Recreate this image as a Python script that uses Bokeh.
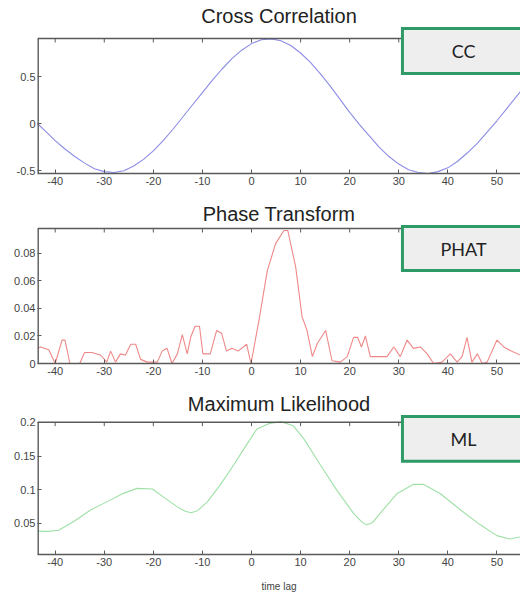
from bokeh.plotting import figure
from bokeh.layouts import column
from bokeh.models import Range1d, FixedTicker, Label
from bokeh.embed import file_html
from bokeh.resources import INLINE

# ---------------- data ----------------
lag_ticks = [-40, -30, -20, -10, 0, 10, 20, 30, 40, 50]
lag_tick_labels = ["-40", "-30", "-20", "-10", "0", "10", "20", "30", "40", "50"]

cc_lag = [-44, -42, -40, -38, -36, -34, -32, -30, -28, -26, -24, -22, -20, -18, -16,
          -14, -12, -10, -8, -6, -4, -2, 0, 2, 4, 6, 8, 10, 12, 14, 16, 18, 20, 22,
          24, 26, 28, 30, 32, 34, 36, 38, 40, 42, 44, 46, 48, 50, 52, 54, 56]
cc_val = [0.02, -0.08, -0.18, -0.27, -0.35, -0.42, -0.48, -0.51, -0.52, -0.50, -0.45,
          -0.38, -0.29, -0.18, -0.06, 0.07, 0.20, 0.33, 0.46, 0.58, 0.69, 0.78, 0.85,
          0.89, 0.90, 0.88, 0.83, 0.75, 0.65, 0.53, 0.40, 0.26, 0.12, -0.01, -0.13,
          -0.25, -0.35, -0.43, -0.49, -0.52, -0.53, -0.51, -0.47, -0.40, -0.31, -0.21,
          -0.09, 0.03, 0.16, 0.29, 0.42]
cc_yticks = [-0.5, 0, 0.5]
cc_ytick_labels = ["-0.5", "0", "0.5"]

phat_lag = [-43.6, -43.0, -41.3, -40.0, -38.6, -38.0, -37.0, -35.0, -34.0, -32.5, -30.7,
            -29.5, -28.7, -27.7, -26.7, -25.7, -24.6, -23.6, -22.6, -21.2, -19.2, -18.2,
            -17.2, -16.2, -15.1, -14.1, -13.1, -12.4, -11.5, -10.6, -9.9, -8.4, -7.1,
            -6.1, -5.1, -4.0, -2.7, -1.0, -0.1, 1.5, 3.2, 4.9, 6.6, 7.4, 9.0, 10.3, 11.3,
            12.4, 13.4, 15.1, 16.4, 18.1, 19.5, 20.8, 21.6, 22.4, 23.2, 24.2, 27.6, 29.0,
            30.3, 31.7, 33.0, 34.4, 35.8, 37.1, 38.8, 40.5, 41.9, 42.9, 43.9, 44.9, 46.0,
            47.0, 48.0, 50.0, 51.4, 52.7, 54.8]
phat_val = [0.011, 0.012, 0.010, 0.000, 0.017, 0.017, 0.000, 0.000, 0.008, 0.008, 0.006,
            0.001, 0.009, 0.001, 0.007, 0.006, 0.014, 0.014, 0.003, 0.001, 0.001, 0.009,
            0.011, 0.000, 0.007, 0.021, 0.007, 0.019, 0.027, 0.027, 0.007, 0.007, 0.024,
            0.022, 0.009, 0.011, 0.009, 0.014, 0.000, 0.031, 0.067, 0.087, 0.0965, 0.0965,
            0.070, 0.034, 0.024, 0.005, 0.0145, 0.024, 0.002, 0.001, 0.005, 0.019, 0.019,
            0.012, 0.020, 0.005, 0.005, 0.012, 0.005, 0.017, 0.011, 0.012, 0.007, 0.000,
            0.001, 0.007, 0.001, 0.005, 0.019, 0.001, 0.007, 0.000, 0.001, 0.017, 0.012,
            0.0095, 0.006]
phat_yticks = [0, 0.02, 0.04, 0.06, 0.08]
phat_ytick_labels = ["0", "0.02", "0.04", "0.06", "0.08"]

ml_lag = [-43.6, -41.5, -39.3, -36.2, -32.8, -29.5, -26.0, -23.3, -20.2, -17.9, -15.1,
          -13.5, -12.3, -11.0, -9.0, -6.3, -3.6, -0.9, 1.1, 3.5, 6.0, 8.5, 10.7, 14.0,
          17.4, 20.8, 22.5, 23.5, 24.6, 26.2, 29.6, 33.0, 35.0, 38.5, 42.6, 46.6, 50.0,
          52.6, 54.8]
ml_val = [0.0386, 0.0383, 0.040, 0.053, 0.070, 0.082, 0.095, 0.102, 0.101, 0.089, 0.0746,
          0.068, 0.066, 0.069, 0.082, 0.108, 0.137, 0.168, 0.190, 0.198, 0.201, 0.195,
          0.175, 0.137, 0.099, 0.065, 0.052, 0.048, 0.051, 0.065, 0.094, 0.108, 0.108,
          0.094, 0.070, 0.048, 0.032, 0.027, 0.030]
ml_yticks = [0.05, 0.1, 0.15, 0.2]
ml_ytick_labels = ["0.05", "0.1", "0.15", "0.2"]

TICK_FONT = "Liberation Sans"
AX_COLOR = "#5a5a5a"
X_LO, X_HI = -43.6, 54.8
BOX_LEFT = 30.75


def make_panel(title, lag, val, color, y_lo, y_top, frame_px, extra_px, yticks, ylabels,
               box_text, box_up_px, box_down_px, height, top, bottom, xlabel=None):
    # frame_px: pixel height of the boxed axes area; extra_px: room above it
    per_px = (y_top - y_lo) / frame_px
    y_end = y_top + extra_px * per_px
    p = figure(width=520, height=height, x_range=Range1d(X_LO, X_HI),
               y_range=Range1d(y_lo, y_end), output_backend="svg",
               toolbar_location=None, min_border_left=37, min_border_right=0,
               min_border_top=top, min_border_bottom=bottom, title=title)
    p.title.text_font = "Liberation Sans"
    p.title.text_font_size = "20px"
    p.title.text_font_style = "normal"
    p.title.text_color = "#222222"
    p.title.align = "center"
    p.title.standoff = 0
    p.outline_line_color = None
    p.xgrid.visible = False
    p.ygrid.visible = False
    p.background_fill_color = "white"

    p.line(lag, val, line_color=color, line_width=1.1)

    # box border: left side, top side and inward top ticks
    tick_len = 4 * per_px
    p.segment(x0=[X_LO], y0=[y_lo], x1=[X_LO], y1=[y_top], line_color=AX_COLOR,
              line_width=2.8)
    p.segment(x0=[X_LO], y0=[y_top], x1=[X_HI], y1=[y_top], line_color=AX_COLOR,
              line_width=1.4)
    p.segment(x0=lag_ticks, y0=[y_top] * len(lag_ticks), x1=lag_ticks,
              y1=[y_top - tick_len] * len(lag_ticks), line_color=AX_COLOR, line_width=1)

    p.xaxis.ticker = FixedTicker(ticks=lag_ticks)
    p.xaxis.major_label_overrides = dict(zip(lag_ticks, lag_tick_labels))
    p.yaxis.ticker = FixedTicker(ticks=yticks)
    p.yaxis.major_label_overrides = dict(zip(yticks, ylabels))
    for ax in (p.xaxis[0], p.yaxis[0]):
        ax.axis_line_color = AX_COLOR
        ax.axis_line_width = 1.4
        ax.major_tick_in = 4
        ax.major_tick_out = 0
        ax.major_tick_line_color = AX_COLOR
        ax.minor_tick_line_color = None
        ax.major_label_text_font = TICK_FONT
        ax.major_label_text_font_size = "11px"
        ax.major_label_text_color = "#444444"
        ax.major_label_standoff = 3
    p.yaxis[0].major_label_standoff = 2
    p.yaxis[0].axis_line_color = None

    if xlabel:
        bx = p.below[0]
        bx.axis_label = xlabel
        bx.axis_label_text_font = TICK_FONT
        bx.axis_label_text_font_size = "10px"
        bx.axis_label_text_font_style = "normal"
        bx.axis_label_text_color = "#444444"
        bx.axis_label_standoff = 12

    # method name box (runs off the right edge like the original)
    b_top = y_top + box_up_px * per_px
    b_bot = y_top - box_down_px * per_px
    b_right = X_HI + 8
    p.quad(left=[BOX_LEFT], right=[b_right], bottom=[b_bot], top=[b_top],
           fill_color="#eeeeee", line_color=None)
    p.multi_line(xs=[[b_right, BOX_LEFT, BOX_LEFT, b_right]],
                 ys=[[b_top, b_top, b_bot, b_bot]],
                 line_color="#2e9a68", line_width=3, line_join="miter")
    lab = Label(x=43.2, y=(b_top + b_bot) / 2, text=box_text, text_align="center",
                text_baseline="middle", text_font="Lato", text_font_size="18px",
                text_color="#222222", level="overlay")
    p.add_layout(lab)
    return p


p1 = make_panel("Cross Correlation", cc_lag, cc_val, "#8c8ce6", -0.53, 0.904, 135, 12,
                cc_yticks, cc_ytick_labels, "CC", 10, 35, 200, 26, 27)
p2 = make_panel("Phase Transform", phat_lag, phat_val, "#f08888", 0.0, 0.098, 135, 4,
                phat_yticks, phat_ytick_labels, "PHAT", 2, 42, 190, 24, 27)
p3 = make_panel("Maximum Likelihood", ml_lag, ml_val, "#9fe0a6", 0.004, 0.2, 136, 8,
                ml_yticks, ml_ytick_labels, "ML", 6, 40, 204, 20, 40,
                xlabel="time lag")

layout = column(p1, p2, p3, spacing=0)
open("out.html", "w").write(file_html(layout, INLINE))
